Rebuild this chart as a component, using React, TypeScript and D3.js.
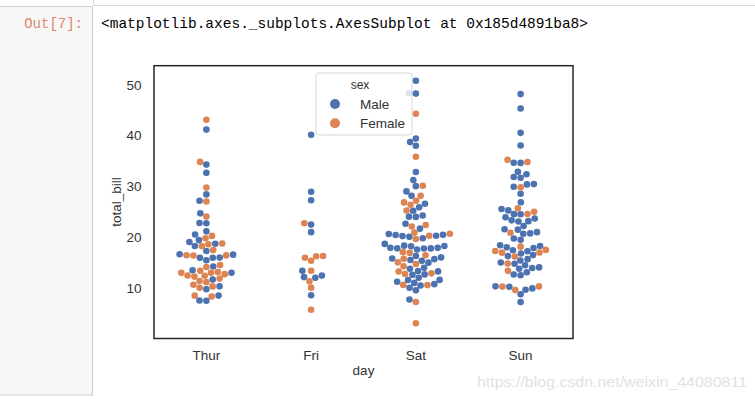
import React from "react";
import * as d3 from "d3";

const days = ["Thur", "Fri", "Sat", "Sun"];
const yTicks = [10, 20, 30, 40, 50];
const sexes = ["Male", "Female"];
const sexColors = ["#4C72B0", "#DD8452"];

// tips dataset: total_bill and sex (M/F), in original row order per day
const thurBill = [27.2, 22.76, 17.29, 19.44, 16.66, 10.07, 32.68, 15.98, 34.83, 13.03, 18.28, 24.71, 21.16,
  10.65, 12.43, 24.08, 11.69, 13.42, 14.26, 15.95, 12.48, 29.8, 8.52, 14.52, 11.38, 22.82, 19.08, 20.27, 11.17, 12.26,
  18.26, 8.51, 10.33, 14.15, 16.0, 13.16, 17.47, 34.3, 41.19, 27.05, 16.43, 8.35, 18.64, 11.87, 9.78, 7.51,
  19.81, 28.44, 15.48, 16.58, 7.56, 10.34, 43.11, 13.0, 13.51, 18.71, 12.74, 13.0, 16.4, 20.53, 16.47, 18.78];
const thurSex = "MMMMMFMMFMMMM" + "FFFMFMMFFMFFMMFFFFFFFMFFMMFFFFFMM" + "FMMMMMFFMMFFFMF" + "F";

const friBill = [28.97, 22.49, 5.75, 16.32, 22.75, 40.17, 27.28, 12.03, 21.01, 12.46, 11.35, 15.38,
  12.16, 13.42, 8.58, 15.98, 13.42, 16.27, 10.09];
const friSex = "MMFFFMMMMMFF" + "MFMFMFF";

const satBill = [20.65, 17.92, 20.29, 15.77, 39.42, 19.82, 17.81, 13.37, 12.69, 21.7, 19.65, 9.55, 18.35, 15.06,
  20.69, 17.78, 24.06, 16.31, 16.93, 18.69, 31.27, 16.04,
  38.01, 26.41, 11.24, 48.27, 20.29, 13.81, 11.02, 18.29, 17.59, 20.08, 16.45, 3.07, 20.23, 15.01, 12.02, 17.07,
  26.86, 25.28, 14.73, 10.51, 17.92,
  44.3, 22.42, 20.92, 15.36, 20.49, 25.21, 18.24, 14.31, 14.0, 7.25,
  10.59, 10.63, 50.81, 15.81,
  26.59, 38.73, 24.27, 12.76, 30.06, 25.89, 48.33, 13.27, 28.17, 12.9, 28.15, 11.59, 7.74, 30.14,
  20.45, 13.28, 22.12, 24.01, 15.69, 11.61, 10.77, 15.53, 10.07, 12.6, 32.83, 35.83, 29.03, 27.18, 22.67, 17.82];
const satSex = "MMFFMMMMMMFMMFFMMMFMMM" + "MFMMMMMMMMFFMMMFFFFMM" + "FFFMMMMFMF" + "FFMM" +
  "MMMFMMMFFFMMMF" + "MMFMMMMMMMMFMFMM";

const sunBill = [16.99, 10.34, 21.01, 23.68, 24.59, 25.29, 8.77, 26.88, 15.04, 14.78, 10.27, 35.26, 15.42, 18.43,
  14.83, 21.58, 10.33, 16.29, 16.97,
  17.46, 13.94, 9.68, 30.4, 18.29, 22.23, 32.4, 28.55, 18.04, 12.54, 10.29, 34.81, 9.94, 25.56, 19.49,
  38.07, 23.95, 25.71, 17.31, 29.93,
  14.07, 13.13, 17.26, 24.55, 19.77, 29.85, 48.17, 25.0, 13.39, 16.49, 21.5, 12.66, 16.21, 13.81, 17.51, 24.52,
  20.76, 31.71,
  7.25, 31.85, 16.82, 32.9, 17.89, 14.48, 9.6, 34.63, 34.65, 23.33, 45.35, 23.17, 40.55, 20.69, 20.9, 30.46,
  18.15, 23.1, 15.69];
const sunSex = "FMMMFMMMMMMFMMFMFMF" + "MMMMMMMMMMFFMMM" + "MMFFM" + "MMMMMFMFFMMMFMFMMM" + "MMMMMMFMMMMMMMFMFMM";

const dayBills = [thurBill, friBill, satBill, sunBill];
const daySexes = [thurSex, friSex, satSex, sunSex];

const W = 755, H = 401;
const frame = { left: 154, right: 573, top: 65.7, bottom: 338.5 };
const D = 6.6; // swarm point diameter (px)

type P = { x: number; u: number; i: number };

function beeswarm(us: number[], d: number): P[] {
  const idx = us.map((_, i) => i).sort((a, b) => us[a] - us[b] || a - b);
  const placed: P[] = [];
  for (const i of idx) {
    const u = us[i];
    const neighbors: P[] = [];
    for (let k = placed.length - 1; k >= 0; k--) {
      if (u - placed[k].u < d) neighbors.unshift(placed[k]);
      else break;
    }
    const cands: { x: number; u: number }[] = [{ x: 0, u }];
    let leftFirst = true;
    for (const n of neighbors) {
      const dy = u - n.u;
      const dx = Math.sqrt(Math.max(d * d - dy * dy, 0)) * 1.05;
      const cl = { x: n.x - dx, u }, cr = { x: n.x + dx, u };
      if (leftFirst) cands.push(cl, cr);
      else cands.push(cr, cl);
      leftFirst = !leftFirst;
    }
    const sorted = cands
      .map((c, k) => ({ c, k }))
      .sort((a, b) => Math.abs(a.c.x) - Math.abs(b.c.x) || a.k - b.k)
      .map((o) => o.c);
    let chosen = sorted[0];
    if (neighbors.length) {
      for (const c of sorted) {
        if (neighbors.every((n) => (n.x - c.x) ** 2 + (n.u - c.u) ** 2 >= d * d - 1e-9)) {
          chosen = c;
          break;
        }
      }
    }
    placed.push({ x: chosen.x, u, i });
  }
  return placed;
}

export default function App() {
  const y = d3.scaleLinear().domain([0.08, 53.76]).range([frame.bottom, frame.top]);
  const x = d3.scaleLinear().domain([-0.5, 3.5]).range([frame.left, frame.right]);
  const font = "'Liberation Sans', Arial, sans-serif";
  const txt = "#333333";

  const points: { cx: number; cy: number; color: string; order: number }[] = [];
  dayBills.forEach((bills, di) => {
    const us = bills.map((v) => -y(v));
    const sw = beeswarm(us, D);
    sw.forEach((p) => {
      const s = daySexes[di][p.i] === "M" ? 0 : 1;
      points.push({ cx: x(di) + p.x, cy: -p.u, color: sexColors[s], order: di * 1000 + p.i });
    });
  });
  points.sort((a, b) => a.order - b.order);

  return (
    <svg width={W} height={H} style={{ position: "absolute", left: 0, top: 0, background: "#fff" }}>
      {/* notebook chrome */}
      <rect x={-1} y={6.5} width={93.5} height={388.5} fill="#f7f7f7" stroke="#cfcfcf" strokeWidth={1} />
      <path d="M93.5,0 V5.5 H756" fill="none" stroke="#dadada" strokeWidth={1} />
      <text x={83} y={28} textAnchor="end" fontFamily="'Liberation Mono', monospace" fontSize={14} fill="#e0866a">
        Out[7]:
      </text>
      <text x={101} y={28} fontFamily="'Liberation Mono', monospace" fontSize={15} fill="#000"
        textLength={487} lengthAdjust="spacingAndGlyphs">
        {"<matplotlib.axes._subplots.AxesSubplot at 0x185d4891ba8>"}
      </text>

      {/* points */}
      <g>
        {points.map((p, k) => (
          <circle key={k} cx={p.cx} cy={p.cy} r={D / 2} fill={p.color} />
        ))}
      </g>

      {/* frame */}
      <rect x={frame.left} y={frame.top} width={frame.right - frame.left} height={frame.bottom - frame.top}
        fill="none" stroke="#262626" strokeWidth={1.5} />

      {/* y ticks */}
      {yTicks.map((t) => (
        <text key={t} x={141.5} y={y(t)} dy="0.36em" textAnchor="end" fontFamily={font} fontSize={13.5} fill={txt}>
          {t}
        </text>
      ))}
      {/* x ticks */}
      {days.map((dname, i) => (
        <text key={dname} x={x(i)} y={360} textAnchor="middle" fontFamily={font} fontSize={13.5} fill={txt}>
          {dname}
        </text>
      ))}
      <text x={(frame.left + frame.right) / 2} y={375} textAnchor="middle" fontFamily={font} fontSize={13.5} fill={txt}>
        day
      </text>
      <text transform={`translate(121,${(frame.top + frame.bottom) / 2}) rotate(-90)`} textAnchor="middle"
        fontFamily={font} fontSize={13.5} fill={txt}>
        total_bill
      </text>

      {/* legend */}
      <g>
        <rect x={316} y={73} width={96} height={62} rx={3} fill="#fff" fillOpacity={0.8} stroke="#cccccc" strokeOpacity={0.8} />
        <text x={360} y={89} textAnchor="middle" fontFamily={font} fontSize={12} fill={txt}>sex</text>
        {sexes.map((s, i) => (
          <g key={s}>
            <circle cx={335} cy={104 + i * 19.3} r={5} fill={sexColors[i]} />
            <text x={360} y={104 + i * 19.3} dy="0.36em" fontFamily={font} fontSize={13.5} fill={txt}>{s}</text>
          </g>
        ))}
      </g>

      {/* watermark */}
      <text x={477} y={387} fontFamily={font} fontSize={15} fill="#e2e2e2" textLength={270} lengthAdjust="spacingAndGlyphs">
        https://blog.csdn.net/weixin_44080811
      </text>
    </svg>
  );
}
